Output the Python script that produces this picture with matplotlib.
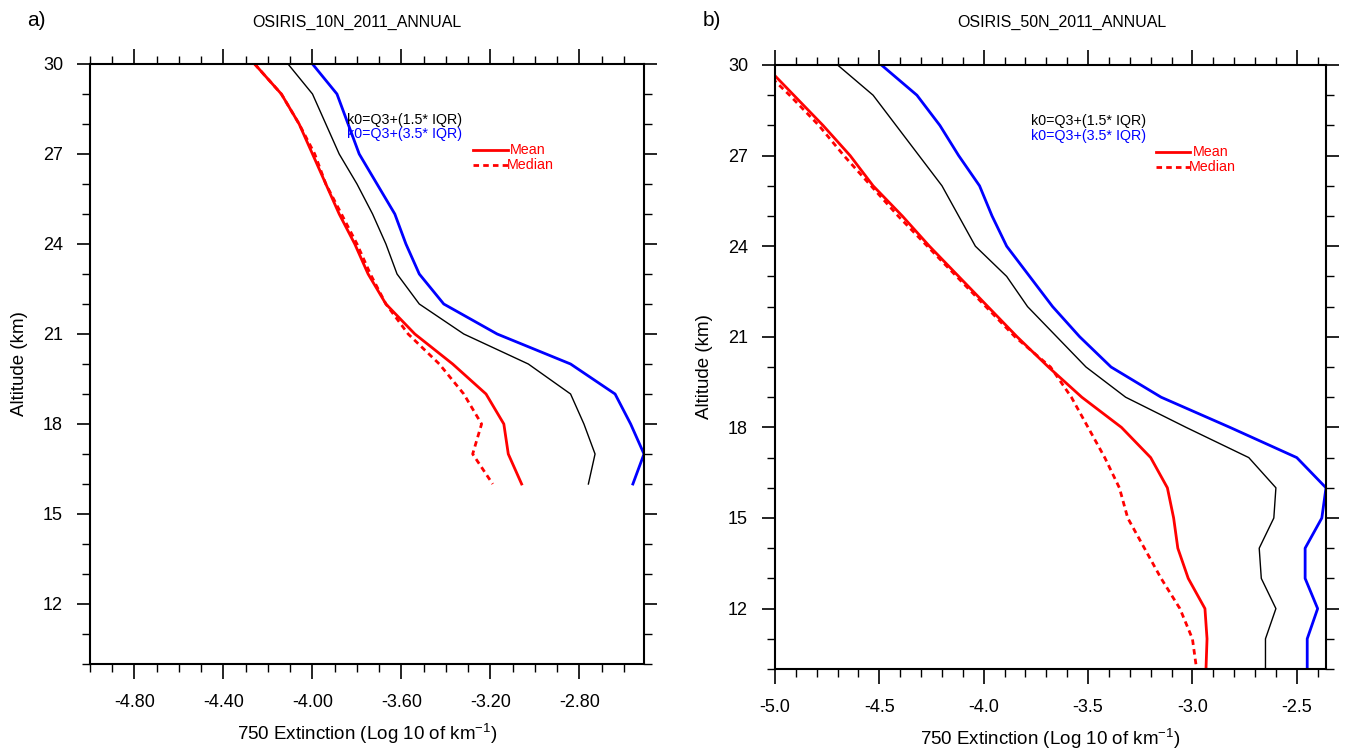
import matplotlib
matplotlib.use('Agg')
import matplotlib.pyplot as plt
import numpy as np
from matplotlib.ticker import MultipleLocator, FormatStrFormatter

plt.rcParams['font.family'] = ['Liberation Sans', 'DejaVu Sans']
plt.rcParams['axes.unicode_minus'] = False
plt.rcParams['mathtext.fontset'] = 'custom'
plt.rcParams['mathtext.rm'] = 'Liberation Sans'
plt.rcParams['mathtext.default'] = 'rm'

# OSIRIS 10N, altitude 30 -> 16 km
alt_10n = np.arange(30, 15, -1)
mean_10n = [-4.26, -4.14, -4.06, -4.00, -3.94, -3.88, -3.81, -3.75, -3.67, -3.54,
            -3.37, -3.22, -3.14, -3.12, -3.06]
median_10n = [-4.26, -4.14, -4.06, -3.99, -3.94, -3.87, -3.80, -3.74, -3.67, -3.57,
              -3.43, -3.32, -3.24, -3.28, -3.19]
k15_10n = [-4.11, -4.00, -3.94, -3.88, -3.80, -3.73, -3.67, -3.62, -3.52, -3.32,
           -3.03, -2.84, -2.78, -2.73, -2.76]
k35_10n = [-4.00, -3.89, -3.84, -3.79, -3.71, -3.63, -3.58, -3.52, -3.41, -3.17,
           -2.84, -2.64, -2.57, -2.51, -2.56]

# OSIRIS 50N, altitude 30 -> 10 km
alt_50n = np.arange(30, 9, -1)
mean_50n = [-5.05, -4.91, -4.77, -4.64, -4.53, -4.39, -4.26, -4.12, -3.98, -3.84,
            -3.69, -3.53, -3.34, -3.20, -3.12, -3.09, -3.07, -3.02, -2.94, -2.93, -2.935]
median_50n = [-5.08, -4.93, -4.79, -4.67, -4.54, -4.41, -4.27, -4.13, -3.99, -3.85,
              -3.68, -3.58, -3.50, -3.42, -3.35, -3.31, -3.23, -3.15, -3.06, -3.00, -2.98]
k15_50n = [-4.70, -4.53, -4.42, -4.31, -4.20, -4.12, -4.04, -3.89, -3.79, -3.65,
           -3.51, -3.32, -3.03, -2.73, -2.60, -2.61, -2.68, -2.67, -2.60, -2.65, -2.65]
k35_50n = [-4.49, -4.32, -4.21, -4.12, -4.02, -3.96, -3.89, -3.78, -3.67, -3.54,
           -3.39, -3.15, -2.82, -2.50, -2.36, -2.38, -2.46, -2.46, -2.40, -2.45, -2.45]

W, H = 1346, 753
fig = plt.figure(figsize=(W / 100, H / 100), dpi=100)


def make_axes(left, right, top, bottom):
    return fig.add_axes([left / W, 1 - bottom / H, (right - left) / W, (bottom - top) / H])


def draw_panel(ax, alt, mean, median, k15, k35, title, title_x, letter, letter_x,
               xmajor, xfmt, xstart):
    ax.plot(k15, alt, color='black', lw=1.0)
    ax.plot(k35, alt, color='blue', lw=2.0)
    ax.plot(mean, alt, color='red', lw=2.0)
    ax.plot(median, alt, color='red', lw=2.0, ls=(0, (2, 1.5)))

    ax.set_xlim(-5.0, max(k35))
    ax.set_ylim(10, 30)
    ax.set_xticks(np.arange(xstart, max(k35) + 0.001, xmajor))
    ax.xaxis.set_minor_locator(MultipleLocator(0.1))
    ax.xaxis.set_major_formatter(FormatStrFormatter(xfmt))
    ax.yaxis.set_major_locator(MultipleLocator(3))
    ax.yaxis.set_minor_locator(MultipleLocator(1))
    ax.tick_params(which='both', direction='out', top=True, right=True, labelsize=13)
    ax.tick_params(axis='x', which='major', length=10.8, width=1.2, pad=11)
    ax.tick_params(axis='y', which='major', length=9.4, width=1.2, pad=10)
    ax.tick_params(which='minor', length=5.5, width=1.0)
    for s in ax.spines.values():
        s.set_linewidth(1.5)

    ax.set_xlabel('750 Extinction (Log 10 of km$^{-1}$)', fontsize=13.5)
    ax.xaxis.set_label_coords(0.5, -0.096)
    ax.set_ylabel('Altitude (km)', fontsize=13.5)
    ax.yaxis.set_label_coords(-0.112, 0.5)

    fig.text(title_x / W, 1 - 22 / H, title, fontsize=11.5, ha='center', va='center')
    fig.text(letter_x / W, 1 - 20 / H, letter, fontsize=15, ha='left', va='center')

    ax.text(0.464, 0.907, 'k0=Q3+(1.5* IQR)', transform=ax.transAxes, color='black',
            fontsize=10.3, va='center')
    ax.text(0.464, 0.883, 'k0=Q3+(3.5* IQR)', transform=ax.transAxes, color='blue',
            fontsize=10.3, va='center')
    ax.plot([0.692, 0.754], [0.856, 0.856], transform=ax.transAxes, color='red', lw=2.0)
    ax.plot([0.692, 0.754], [0.831, 0.831], transform=ax.transAxes, color='red', lw=2.0,
            ls=(0, (2, 1.5)))
    ax.text(0.758, 0.856, 'Mean', transform=ax.transAxes, color='red', fontsize=10.3,
            va='center')
    ax.text(0.752, 0.831, 'Median', transform=ax.transAxes, color='red', fontsize=10.3,
            va='center')


ax1 = make_axes(90, 644, 64, 664)
draw_panel(ax1, alt_10n, mean_10n, median_10n, k15_10n, k35_10n,
           'OSIRIS_10N_2011_ANNUAL', 357, 'a)', 27, 0.4, '%.2f', -4.8)

ax2 = make_axes(775, 1326, 65, 669)
draw_panel(ax2, alt_50n, mean_50n, median_50n, k15_50n, k35_50n,
           'OSIRIS_50N_2011_ANNUAL', 1062, 'b)', 703, 0.5, '%.1f', -5.0)

fig.savefig('out.png', dpi=100)
